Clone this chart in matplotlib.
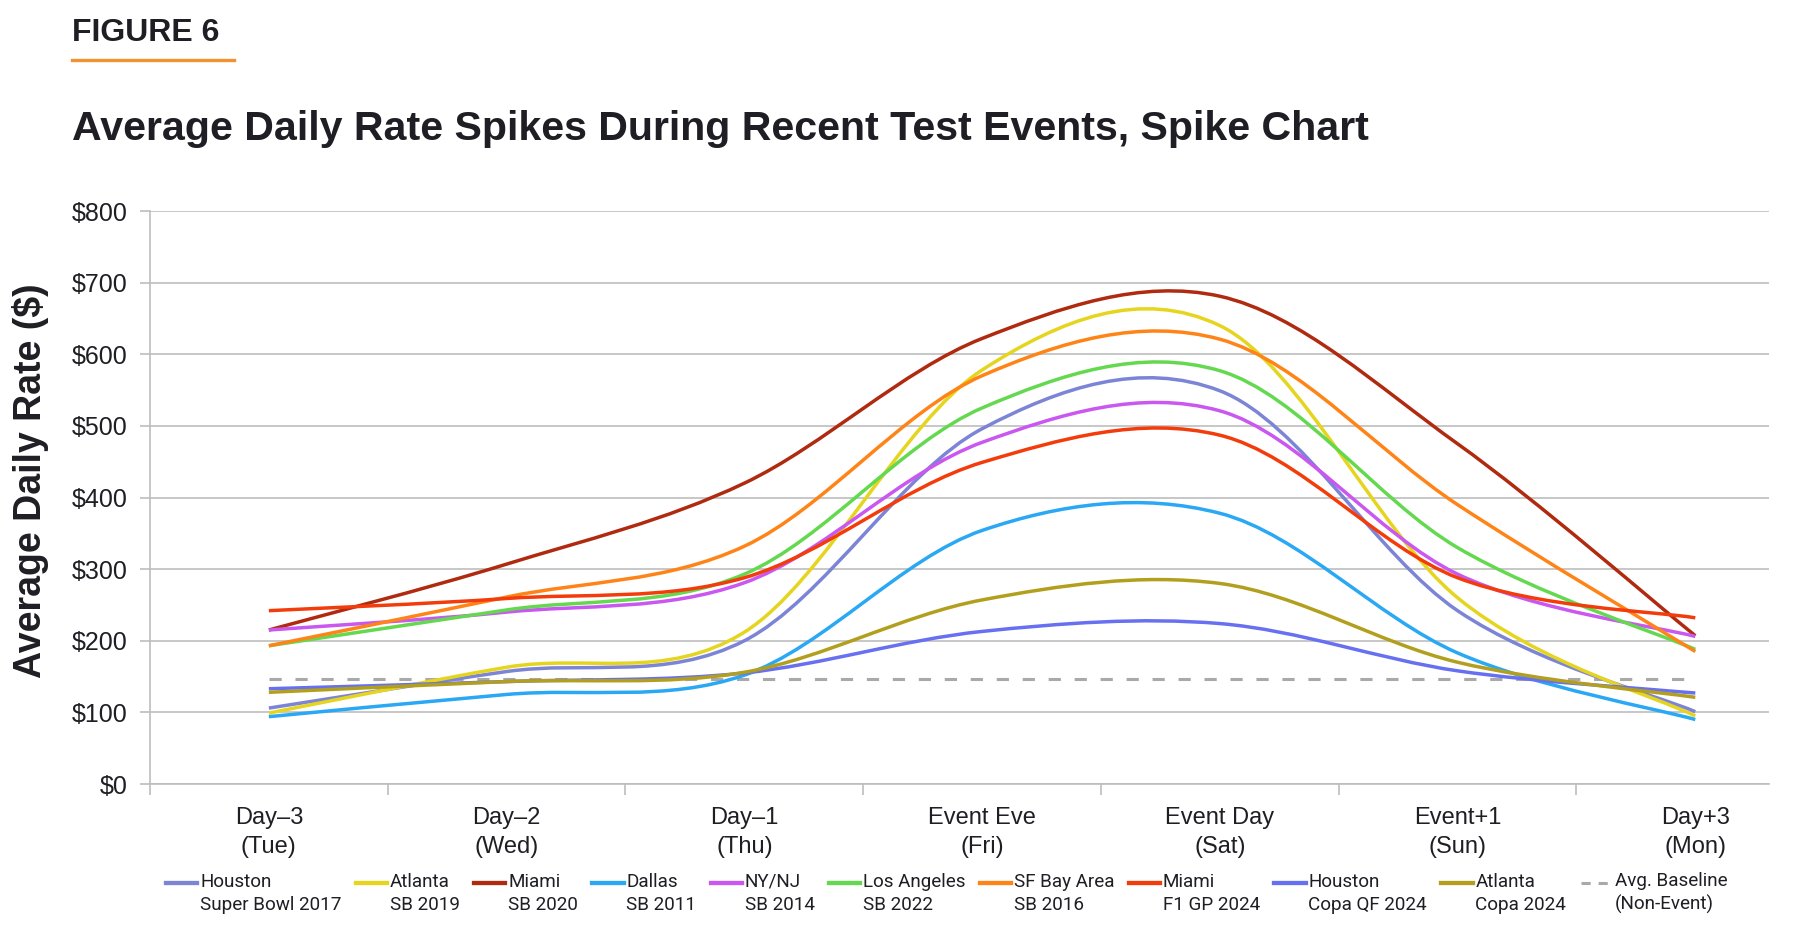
import numpy as np
import matplotlib
matplotlib.use("Agg")
import matplotlib.pyplot as plt
from matplotlib.path import Path
from matplotlib.patches import PathPatch
from matplotlib.lines import Line2D
from matplotlib.legend_handler import HandlerLine2D
from matplotlib import font_manager as fm

# ---------------- data ----------------
categories = ["Day\u20133\n(Tue)", "Day\u20132\n(Wed)", "Day\u20131\n(Thu)",
              "Event Eve\n(Fri)", "Event Day\n(Sat)", "Event+1\n(Sun)", "Day+3\n(Mon)"]

houston_sb2017 = [106, 157, 200, 496, 549, 242, 101]
atlanta_sb2019 = [99, 163, 212, 578, 640, 260, 95]
miami_sb2020 = [215, 307, 420, 622, 681, 475, 207]
dallas_sb2011 = [94, 125, 152, 354, 378, 183, 90]
nynj_sb2014 = [215, 240, 281, 477, 521, 293, 206]
la_sb2022 = [193, 243, 293, 525, 577, 330, 188]
sf_sb2016 = [193, 261, 332, 570, 621, 390, 185]
miami_f1_2024 = [242, 259, 288, 449, 487, 288, 232]
houston_copa_2024 = [133, 143, 155, 213, 224, 158, 127]
atlanta_copa_2024 = [128, 143, 156, 257, 280, 170, 121]
baseline_value = 146

series_labels = ["Houston\nSuper Bowl 2017", "Atlanta\nSB 2019", "Miami\nSB 2020",
                 "Dallas\nSB 2011", "NY/NJ\nSB 2014", "Los Angeles\nSB 2022",
                 "SF Bay Area\nSB 2016", "Miami\nF1 GP 2024", "Houston\nCopa QF 2024",
                 "Atlanta\nCopa 2024"]
baseline_label = "Avg. Baseline\n(Non-Event)"
series_values = [houston_sb2017, atlanta_sb2019, miami_sb2020, dallas_sb2011,
                 nynj_sb2014, la_sb2022, sf_sb2016, miami_f1_2024,
                 houston_copa_2024, atlanta_copa_2024]
series_colors = ["#7C84D6", "#E6D51E", "#B02A10", "#2AA8F4", "#C957F0",
                 "#64D950", "#FF8418", "#F33C0C", "#6670F0", "#B39F1E"]
y_ticks = [0, 100, 200, 300, 400, 500, 600, 700, 800]
y_tick_labels = ["$0", "$100", "$200", "$300", "$400", "$500", "$600", "$700", "$800"]

# ---------------- fonts ----------------
names = {f.name for f in fm.fontManager.ttflist}
SANS = "Liberation Sans" if "Liberation Sans" in names else "DejaVu Sans"
LEGF = "Roboto" if "Roboto" in names else SANS
plt.rcParams["font.family"] = [SANS, "DejaVu Sans"]

TXT = "#1e1e24"
GRID = "#BDBDBD"

W, H = 1800, 942
fig = plt.figure(figsize=(W / 100, H / 100), dpi=100)
fig.patch.set_facecolor("white")

left, right = 150 / W, 1769 / W
bottom, top = 1 - 784 / H, 1 - 211 / H
ax = fig.add_axes([left, bottom, right - left, top - bottom])


def smooth_path(xs, ys):
    pts = np.column_stack([xs, ys]).astype(float)
    n = len(pts)
    verts = [pts[0]]
    codes = [Path.MOVETO]
    for i in range(n - 1):
        p0 = pts[i - 1] if i > 0 else pts[i]
        p1 = pts[i]
        p2 = pts[i + 1]
        p3 = pts[i + 2] if i + 2 < n else pts[i + 1]
        c1 = p1 + (p2 - p0) / 6.0
        c2 = p2 - (p3 - p1) / 6.0
        verts += [c1, c2, p2]
        codes += [Path.CURVE4] * 3
    return Path(verts, codes)


x = np.arange(len(categories))
LW = 2.5
handles = []
for vals, col in zip(series_values, series_colors):
    patch = PathPatch(smooth_path(x, vals), facecolor="none", edgecolor=col,
                      lw=LW, capstyle="butt", joinstyle="round", zorder=3)
    ax.add_patch(patch)
    handles.append(Line2D([], [], color=col, lw=LW + 0.6))

ax.plot(x, [baseline_value] * len(x), color="#A9A9A9", lw=2.2,
        dashes=(4, 4.5), zorder=2)
handles.append(Line2D([], [], color="#A9A9A9", lw=2.2, dashes=(3.0, 2.6)))

ax.set_xlim(-0.5, 6.31)
ax.set_ylim(0, 800)

for s in ["top", "right"]:
    ax.spines[s].set_visible(False)
for s in ["left", "bottom"]:
    ax.spines[s].set_color(GRID)
    ax.spines[s].set_linewidth(1.2)

ax.set_yticks(y_ticks)
ax.set_yticklabels(y_tick_labels)
ax.tick_params(axis="y", direction="out", length=7, width=1.2, color=GRID,
               labelsize=18, labelcolor=TXT, pad=9)
ax.yaxis.grid(True, color=GRID, lw=1.2)
ax.set_axisbelow(True)

ax.set_xticks(np.arange(-0.5, 6.0, 1.0))
ax.set_xticklabels([])
ax.set_xticks(x, minor=True)
ax.set_xticklabels(categories, minor=True)
ax.tick_params(axis="x", which="major", direction="out", length=8, width=1.2, color=GRID)
ax.tick_params(axis="x", which="minor", length=0, labelsize=17, labelcolor=TXT, pad=16.5)
for t in ax.get_xticklabels(minor=True):
    t.set_linespacing(1.4)

# titles
fig.text(72 / W, 1 - 41 / H, "FIGURE 6", fontsize=23, weight="bold",
         color=TXT, family=SANS, va="baseline", ha="left")
fig.add_artist(Line2D([72 / W, 234 / W], [1 - 60 / H, 1 - 60 / H],
                      color="#F0922F", lw=2.4, transform=fig.transFigure))
fig.text(72 / W, 1 - 140 / H,
         "Average Daily Rate Spikes During Recent Test Events, Spike Chart",
         fontsize=29.6, weight="bold", color=TXT, family=SANS,
         va="baseline", ha="left")
fig.text(31 / W, 1 - 481 / H, "Average Daily Rate ($)", rotation=90,
         fontsize=27, weight="bold", color=TXT, family=SANS,
         ha="center", va="center")


class FirstLineHandler(HandlerLine2D):
    def __init__(self, dy, **kw):
        super().__init__(**kw)
        self._dy = dy

    def create_artists(self, legend, orig_handle, xdescent, ydescent, width,
                       height, fontsize, trans):
        arts = super().create_artists(legend, orig_handle, xdescent, ydescent,
                                      width, height, fontsize, trans)
        for a in arts:
            a.set_ydata(np.asarray(a.get_ydata(), float) + self._dy)
        return arts


LEG_FS = 13.6
hmap = {h: FirstLineHandler(7.8) for h in handles}
leg = fig.legend(handles, series_labels + [baseline_label], loc="upper left",
                 bbox_to_anchor=(166 / W, 1 - 872 / H), ncol=11, frameon=False,
                 handlelength=1.65, handletextpad=0.15, columnspacing=0.76,
                 borderpad=0, borderaxespad=0, handler_map=hmap,
                 prop={"family": LEGF, "size": LEG_FS})
for t in leg.get_texts():
    t.set_color(TXT)
    t.set_linespacing(1.35)

fig.savefig("out.png", dpi=100, facecolor="white")
